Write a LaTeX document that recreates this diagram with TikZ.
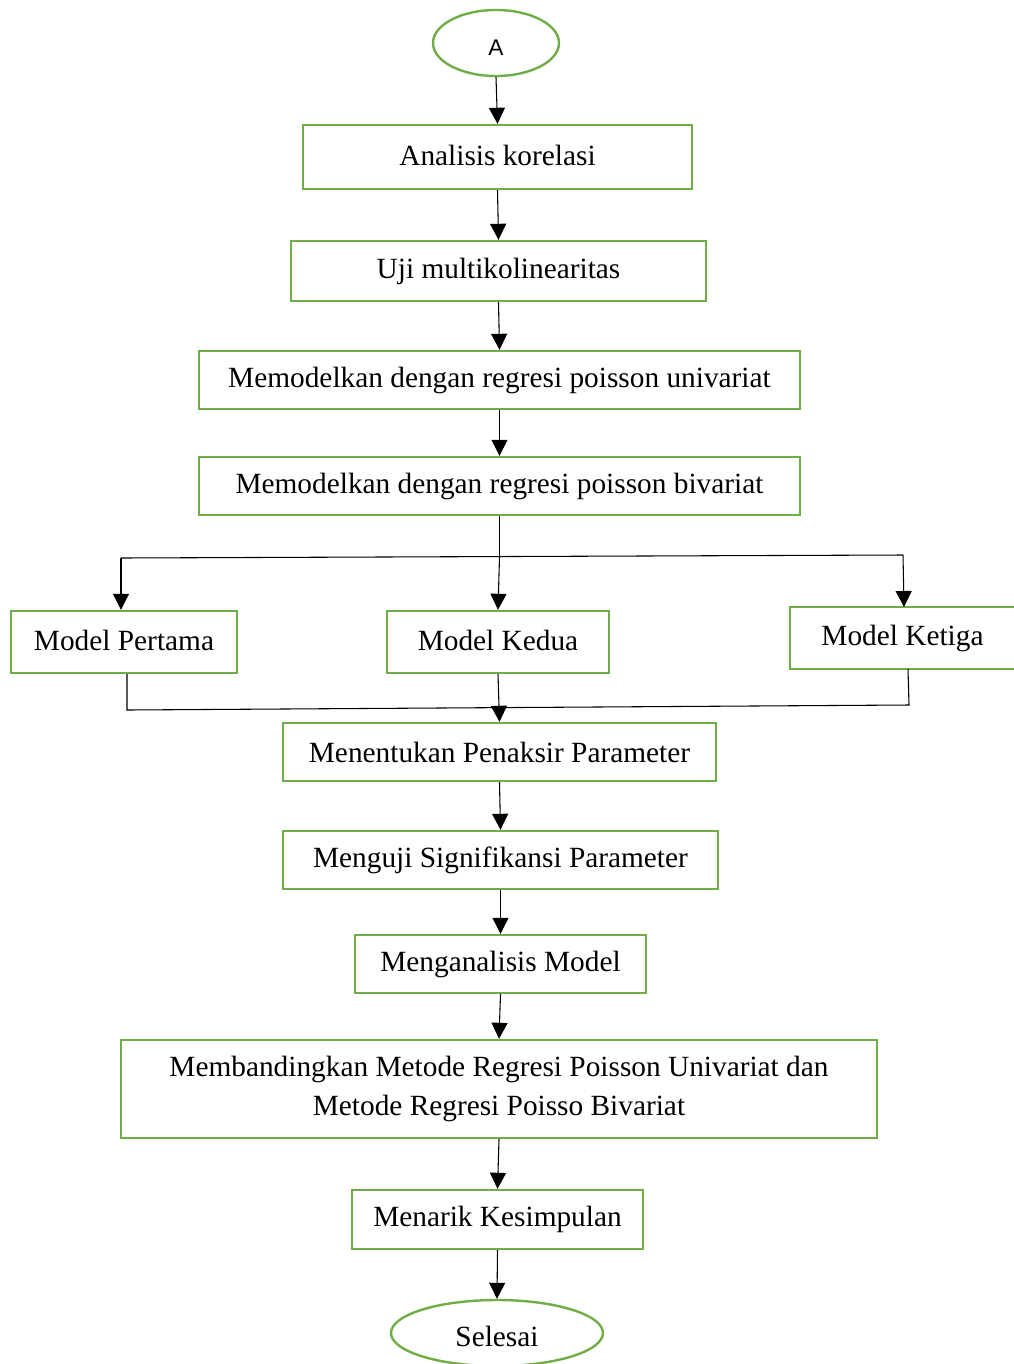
\documentclass[tikz,border=0pt]{standalone}
\usepackage{fontspec}
\setmainfont{Liberation Serif}
\newfontfamily\arialfont{Liberation Sans}
\usetikzlibrary{arrows.meta,shapes.geometric}
\definecolor{boxgreen}{HTML}{70AD47}
\tikzset{
  box/.style={draw=boxgreen, line width=1.8pt, rectangle, inner sep=0pt,
    font=\fontsize{22}{29}\selectfont, align=center},
  term/.style={draw=boxgreen, line width=1.8pt, ellipse, inner sep=0pt},
  conn/.style={draw=black, line width=0.8pt},
  arr/.style={conn, -{Triangle[width=12pt,length=12pt]}},
}
\begin{document}
\begin{tikzpicture}[x=0.75pt,y=-0.75pt]
\useasboundingbox (0,0) rectangle (1014,1364);
\begin{scope}
\clip (0,0) rectangle (1014,1364);
% nodes
\node[term, minimum width=126*0.75pt, minimum height=66*0.75pt, font=\arialfont\fontsize{17}{19}\selectfont, text height=18pt, text depth=0pt] (A) at (496,43) {A};
\node[box, minimum width=389*0.75pt, minimum height=64*0.75pt] (ana) at (497.5,157) {\raisebox{2pt}{Analisis korelasi}};
\node[box, minimum width=415*0.75pt, minimum height=60*0.75pt] (uji) at (498.5,271) {Uji multikolinearitas};
\node[box, minimum width=601*0.75pt, minimum height=58*0.75pt] (uni) at (499.5,380) {Memodelkan dengan regresi poisson univariat};
\node[box, minimum width=601*0.75pt, minimum height=58*0.75pt] (biv) at (499.5,486) {Memodelkan dengan regresi poisson bivariat};
\node[box, minimum width=226*0.75pt, minimum height=62*0.75pt] (m1) at (124,642) {\raisebox{2pt}{Model Pertama}};
\node[box, minimum width=222*0.75pt, minimum height=62*0.75pt] (m2) at (498,642) {\raisebox{2pt}{Model Kedua}};
\node[box, minimum width=230*0.75pt, minimum height=62*0.75pt, anchor=west] (m3) at (789,638) {\hspace*{-4pt}\raisebox{2pt}{Model Ketiga}};
\node[box, minimum width=433*0.75pt, minimum height=58*0.75pt] (pen) at (499.5,752) {Menentukan Penaksir Parameter};
\node[box, minimum width=435*0.75pt, minimum height=58*0.75pt] (sig) at (500.5,860) {Menguji Signifikansi Parameter};
\node[box, minimum width=291*0.75pt, minimum height=58*0.75pt] (ana2) at (500.5,964) {Menganalisis Model};
\node[box, minimum width=756*0.75pt, minimum height=98*0.75pt] (band) at (499,1089) {Membandingkan Metode Regresi Poisson Univariat dan\\Metode Regresi Poisso Bivariat};
\node[box, minimum width=291*0.75pt, minimum height=59*0.75pt] (kes) at (497.5,1219.5) {Menarik Kesimpulan};
\node[term, minimum width=212*0.75pt, minimum height=66*0.75pt, font=\fontsize{22}{26}\selectfont, text height=20pt, text depth=0pt] (end) at (497,1333) {Selesai};
% coordinates
\coordinate (bl) at (121,558);
\coordinate (br) at (903,555);
\coordinate (bm) at (499.5,557);
\coordinate (ml) at (127,710);
\coordinate (mr) at (909,705);
\coordinate (mm) at (499,708);
\end{scope}
% connectors
\draw[arr] (A.south) -- (ana.north);
\draw[arr] (ana.south) -- (uji.north);
\draw[arr] (uji.south) -- (uni.north);
\draw[arr] (uni.south) -- (biv.north);
\draw[conn] (biv.south) -- (bm);
\draw[conn] (bl) -- (br);
\draw[arr] (bl) -- (m1.north -| bl);
\draw[arr] (bm) -- (m2.north);
\draw[arr] (br) -- (904,607);
\draw[conn] (m1.south -| ml) -- (ml) -- (mr) -- (908,669);
\draw[arr] (m2.south) -- (pen.north);
\draw[arr] (pen.south) -- (sig.north);
\draw[arr] (sig.south) -- (ana2.north);
\draw[arr] (ana2.south) -- (band.north);
\draw[arr] (band.south) -- (kes.north);
\draw[arr] (kes.south) -- (end.north);
\end{tikzpicture}
\end{document}
